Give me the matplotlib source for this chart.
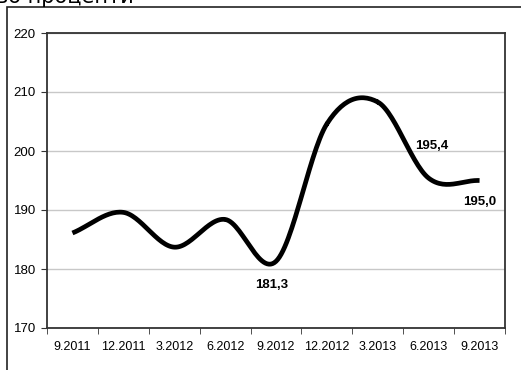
import numpy as np
import matplotlib.pyplot as plt
from matplotlib.patches import Rectangle

periods = ["9.2011", "12.2011", "3.2012", "6.2012", "9.2012",
           "12.2012", "3.2013", "6.2013", "9.2013"]
values = [186.1, 189.6, 183.7, 188.4, 181.3, 204.6, 208.3, 195.4, 195.0]
labeled = {4: "181,3", 7: "195,4", 8: "195,0"}

FONT = ["Liberation Sans", "DejaVu Sans"]


def smooth(x, y, n=30):
    # catmull-rom, roughly like excel's smoothed line
    x = np.asarray(x, float)
    y = np.asarray(y, float)
    px = np.concatenate([[2 * x[0] - x[1]], x, [2 * x[-1] - x[-2]]])
    py = np.concatenate([[2 * y[0] - y[1]], y, [2 * y[-1] - y[-2]]])
    xs, ys = [], []
    t = np.linspace(0, 1, n)
    for i in range(1, len(px) - 2):
        for p, out in ((px, xs), (py, ys)):
            p0, p1, p2, p3 = p[i - 1], p[i], p[i + 1], p[i + 2]
            out.extend(0.5 * (2 * p1 + (-p0 + p2) * t
                              + (2 * p0 - 5 * p1 + 4 * p2 - p3) * t ** 2
                              + (-p0 + 3 * p1 - 3 * p2 + p3) * t ** 3))
    return np.array(xs), np.array(ys)


fig = plt.figure(figsize=(5.21, 3.70), dpi=100)
ax = fig.add_axes([47 / 521, 42 / 370, 458 / 521, 295 / 370])

x = np.arange(len(values))
sx, sy = smooth(x, values)
ax.plot(sx, sy, color="black", linewidth=3.4, solid_capstyle="butt", zorder=3)

ax.text(3.92, values[4] - 3.0, labeled[4], ha="center", va="top",
        fontsize=9.5, fontweight="bold", family=FONT)
ax.text(7.07, values[7] + 4.4, labeled[7], ha="center", va="bottom",
        fontsize=9.5, fontweight="bold", family=FONT)
ax.text(8.0, values[8] - 2.6, labeled[8], ha="center", va="top",
        fontsize=9.5, fontweight="bold", family=FONT)

ax.set_xlim(-0.5, len(values) - 0.5)
ax.set_ylim(170, 220)
ax.set_yticks(range(170, 221, 10))
ax.set_xticks(x)
ax.set_xticklabels(periods, family=FONT, fontsize=9)
ax.set_xticks(np.arange(-0.5, len(values), 1), minor=True)
ax.tick_params(axis="x", which="major", length=0, pad=9)
ax.tick_params(axis="x", which="minor", length=4, direction="out", color="#333333")
ax.tick_params(axis="y", length=4, direction="out", color="#333333", pad=4)
for lab in ax.get_yticklabels():
    lab.set_family(FONT)
    lab.set_fontsize(9.5)

ax.grid(True, axis="y", color="#c8c8c8", linewidth=1)
ax.set_axisbelow(True)
for s in ax.spines.values():
    s.set_color("#333333")
    s.set_linewidth(1.3)

fig.patches.append(Rectangle((7 / 521, -0.1), 1.2, 1.1 - 7 / 370,
                             transform=fig.transFigure, fill=False,
                             edgecolor="#222222", linewidth=1.2))
fig.text(-0.008, 1.0 + 0.034, "во проценти", fontsize=15, va="top",
         ha="left", family=["DejaVu Sans"])

fig.savefig("out.png", dpi=100)
